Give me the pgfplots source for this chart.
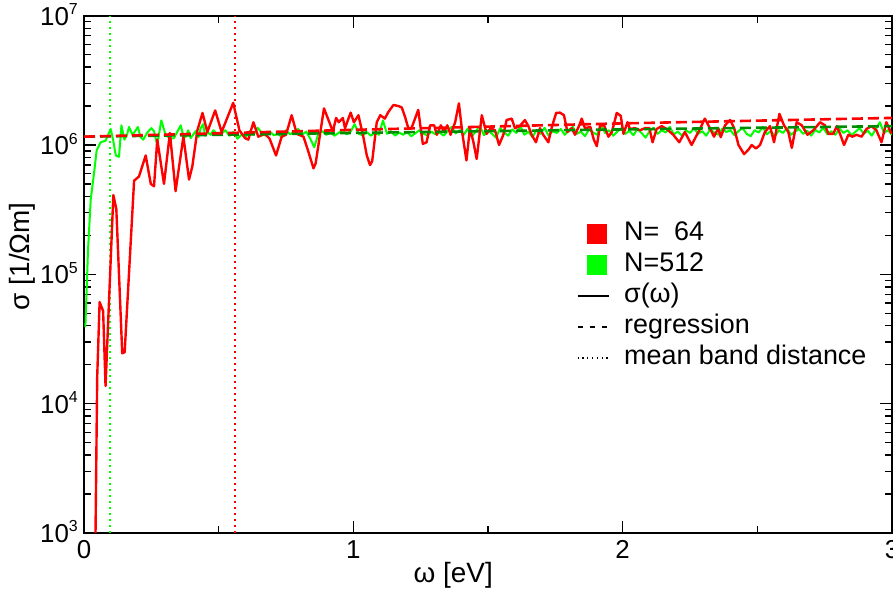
\documentclass[border=0pt]{standalone}
\usepackage{fontspec}
\setmainfont{Liberation Sans}
\usepackage{pgfplots}
\usepackage{pgfplotstable}
\pgfplotsset{compat=1.18}
\definecolor{grred}{RGB}{255,0,0}
\definecolor{grgreen}{RGB}{0,255,0}
\definecolor{grdkgreen}{RGB}{0,139,0}
\newcommand{\fs}{\fontsize{27}{32}\selectfont}
\newcommand{\fl}{\fontsize{28}{33}\selectfont}
\newcommand{\ft}{\fontsize{26}{31}\selectfont}
\newcommand{\pw}[1]{10\raisebox{10.5bp}{\fontsize{16}{16}\selectfont #1}}

\pgfplotstableread{
x y
0.036 50
0.049 1.6e4
0.058 6.1e4
0.071 5.2e4
0.080 1.37e4
0.109 4.1e5
0.120 3.2e5
0.142 2.45e4
0.151 2.5e4
0.186 5.3e5
0.204 5.7e5
0.229 8.3e5
0.248 5.0e5
0.260 4.8e5
0.272 1.1e6
0.297 5.0e5
0.319 1.24e6
0.340 4.4e5
0.369 1.16e6
0.390 5.4e5
0.402 6.8e5
0.421 1.3e6
0.440 1.77e6
0.458 1.26e6
0.487 1.85e6
0.511 1.26e6
0.554 2.12e6
0.577 1.3e6
0.598 1.13e6
0.610 1.1e6
0.629 1.5e6
0.647 1.16e6
0.672 1.22e6
0.689 1.12e6
0.713 8.3e5
0.734 1.16e6
0.750 1.2e6
0.771 1.7e6
0.790 1.22e6
0.815 1.16e6
0.833 8.9e5
0.852 6.6e5
0.860 7.2e5
0.891 1.92e6
0.911 1.5e6
0.924 1.27e6
0.936 1.62e6
0.946 1.5e6
0.961 1.62e6
0.969 1.35e6
0.990 1.78e6
1.002 1.5e6
1.019 1.7e6
1.037 1.16e6
1.050 8.3e5
1.062 7.0e5
1.070 7.5e5
1.087 1.5e6
1.100 1.7e6
1.117 1.6e6
1.130 1.8e6
1.149 2.04e6
1.168 2.0e6
1.180 1.95e6
1.192 1.65e6
1.204 1.35e6
1.216 1.35e6
1.241 1.87e6
1.258 1.02e6
1.272 1.05e6
1.285 1.42e6
1.300 1.42e6
1.310 1.2e6
1.325 1.42e6
1.337 1.26e6
1.349 1.42e6
1.361 1.2e6
1.378 1.5e6
1.392 2.1e6
1.405 1.22e6
1.420 7.6e5
1.433 1.35e6
1.446 1.05e6
1.458 7.8e5
1.477 1.7e6
1.495 1.22e6
1.510 1.35e6
1.526 1.3e6
1.541 1.0e6
1.557 1.2e6
1.569 1.56e6
1.588 1.6e6
1.600 1.35e6
1.618 1.4e6
1.637 1.56e6
1.650 1.4e6
1.662 1.2e6
1.678 1.05e6
1.693 1.35e6
1.705 1.2e6
1.724 1.05e6
1.736 1.35e6
1.753 1.77e6
1.767 1.78e6
1.782 1.7e6
1.795 1.26e6
1.811 1.35e6
1.823 1.2e6
1.839 1.42e6
1.848 1.6e6
1.860 1.35e6
1.880 1.38e6
1.893 1.1e6
1.904 9.8e5
1.916 1.42e6
1.931 1.42e6
1.947 1.16e6
1.960 1.26e6
1.978 1.77e6
1.993 1.68e6
2.003 1.22e6
2.018 1.5e6
2.027 1.33e6
2.046 1.35e6
2.064 1.3e6
2.083 1.35e6
2.099 1.35e6
2.111 1.05e6
2.126 1.33e6
2.145 1.4e6
2.163 1.33e6
2.188 1.2e6
2.210 1.05e6
2.231 1.26e6
2.256 1.0e6
2.272 1.16e6
2.287 1.33e6
2.305 1.6e6
2.324 1.35e6
2.339 1.16e6
2.355 1.35e6
2.364 1.15e6
2.380 1.42e6
2.399 1.56e6
2.414 1.35e6
2.430 1.0e6
2.451 8.5e5
2.467 9.2e5
2.479 1.0e6
2.495 9.4e5
2.510 1.0e6
2.528 1.26e6
2.547 1.4e6
2.562 1.05e6
2.582 1.74e6
2.599 1.42e6
2.615 1.26e6
2.628 9.5e5
2.646 1.5e6
2.665 1.42e6
2.686 1.2e6
2.708 1.3e6
2.733 1.5e6
2.751 1.42e6
2.764 1.22e6
2.782 1.22e6
2.795 1.4e6
2.807 1.22e6
2.822 1.0e6
2.838 1.2e6
2.853 1.16e6
2.868 1.2e6
2.887 1.16e6
2.905 1.33e6
2.924 1.4e6
2.942 1.3e6
2.961 1.05e6
2.979 1.5e6
2.998 1.22e6
}\redtab

\pgfplotstableread{
x y
0.005 3.9e4
0.015 1.55e5
0.025 3.8e5
0.037 6.0e5
0.047 9.1e5
0.062 1.05e6
0.080 1.08e6
0.099 1.33e6
0.108 1.1e6
0.118 8.3e5
0.130 8.1e5
0.139 1.42e6
0.150 1.1e6
0.160 1.2e6
0.167 1.38e6
0.180 1.2e6
0.190 1.28e6
0.200 1.38e6
0.210 1.15e6
0.220 1.1e6
0.235 1.25e6
0.250 1.35e6
0.260 1.28e6
0.272 1.0e6
0.287 1.55e6
0.303 1.2e6
0.320 1.12e6
0.334 1.13e6
0.345 1.25e6
0.359 1.42e6
0.368 1.2e6
0.377 1.15e6
0.387 1.3e6
0.396 1.13e6
0.405 1.2e6
0.415 1.28e6
0.425 1.15e6
0.433 1.35e6
0.442 1.45e6
0.450 1.18e6
0.460 1.25e6
0.470 1.2e6
0.480 1.3e6
0.495 1.22e6
0.510 1.22e6
0.525 1.30e6
0.540 1.18e6
0.555 1.26e6
0.570 1.12e6
0.585 1.20e6
0.600 1.15e6
0.615 1.28e6
0.630 1.20e6
0.645 1.36e6
0.660 1.24e6
0.675 1.18e6
0.690 1.27e6
0.705 1.19e6
0.720 1.22e6
0.735 1.15e6
0.750 1.30e6
0.765 1.21e6
0.780 1.26e6
0.795 1.33e6
0.810 1.20e6
0.825 1.27e6
0.840 1.12e6
0.855 0.96e6
0.870 1.22e6
0.885 1.28e6
0.900 1.20e6
0.915 1.25e6
0.930 1.18e6
0.945 1.24e6
0.960 1.30e6
0.975 1.21e6
0.990 1.27e6
1.005 1.45e6
1.020 1.22e6
1.035 1.19e6
1.050 1.26e6
1.065 1.18e6
1.080 1.24e6
1.095 1.20e6
1.110 1.55e6
1.125 1.22e6
1.140 1.28e6
1.155 1.18e6
1.170 1.25e6
1.185 1.20e6
1.200 1.26e6
1.215 1.17e6
1.230 1.23e6
1.245 1.30e6
1.260 1.22e6
1.275 1.19e6
1.290 1.27e6
1.305 1.21e6
1.320 1.25e6
1.335 1.18e6
1.350 1.28e6
1.365 1.38e6
1.380 1.23e6
1.395 1.30e6
1.410 1.20e6
1.425 1.34e6
1.440 1.16e6
1.455 1.28e6
1.470 1.40e6
1.485 1.19e6
1.500 1.30e6
1.515 1.22e6
1.530 1.14e6
1.545 1.35e6
1.560 1.25e6
1.575 1.18e6
1.590 1.32e6
1.605 1.24e6
1.620 1.40e6
1.635 1.20e6
1.650 1.27e6
1.665 1.15e6
1.680 1.30e6
1.695 1.22e6
1.710 1.36e6
1.725 1.18e6
1.740 1.28e6
1.755 1.24e6
1.770 1.33e6
1.785 1.20e6
1.800 1.30e6
1.815 1.38e6
1.830 1.22e6
1.845 1.27e6
1.860 1.17e6
1.875 1.32e6
1.890 1.25e6
1.905 1.20e6
1.920 1.42e6
1.935 1.24e6
1.950 1.30e6
1.965 1.18e6
1.980 1.27e6
1.995 1.35e6
2.010 1.22e6
2.025 1.29e6
2.040 1.19e6
2.055 1.33e6
2.070 1.24e6
2.085 1.14e6
2.100 1.28e6
2.115 1.36e6
2.130 1.22e6
2.145 1.30e6
2.160 1.25e6
2.175 1.38e6
2.190 1.21e6
2.205 1.27e6
2.220 1.18e6
2.235 1.30e6
2.250 1.24e6
2.265 1.35e6
2.280 1.22e6
2.295 1.28e6
2.310 1.18e6
2.325 1.32e6
2.340 1.25e6
2.355 1.20e6
2.370 1.34e6
2.385 1.26e6
2.400 1.30e6
2.415 1.19e6
2.430 1.28e6
2.445 1.36e6
2.460 1.22e6
2.475 1.17e6
2.490 1.30e6
2.505 1.25e6
2.520 1.38e6
2.535 1.21e6
2.550 1.28e6
2.565 1.16e6
2.580 1.30e6
2.595 1.24e6
2.610 1.35e6
2.625 1.20e6
2.640 1.27e6
2.655 1.33e6
2.670 1.22e6
2.685 1.29e6
2.700 1.18e6
2.715 1.31e6
2.730 1.25e6
2.745 1.36e6
2.760 1.21e6
2.775 1.28e6
2.790 1.20e6
2.805 1.34e6
2.820 1.24e6
2.835 1.30e6
2.850 1.19e6
2.865 1.27e6
2.880 1.35e6
2.895 1.22e6
2.910 1.29e6
2.925 1.18e6
2.940 1.33e6
2.955 1.50e6
2.970 1.24e6
2.985 1.30e6
3.000 1.20e6
}\greentab

\begin{document}
\begin{tikzpicture}
\begin{axis}[
  scale only axis, width=808bp, height=517.3bp,
  xmin=0, xmax=3, ymode=log, ymin=1e3, ymax=1e7,
  xtick={0,1,2,3}, xticklabels={0,1,2,3}, minor xtick={0.5,1.5,2.5},
  ytick={1e3,1e4,1e5,1e6,1e7},
  yticklabels={\pw{3},\pw{4},\pw{5},\pw{6},\pw{7}},
  minor ytick={2e3,3e3,4e3,5e3,6e3,7e3,8e3,9e3,2e4,3e4,4e4,5e4,6e4,7e4,8e4,9e4,2e5,3e5,4e5,5e5,6e5,7e5,8e5,9e5,2e6,3e6,4e6,5e6,6e6,7e6,8e6,9e6},
  tick align=inside, major tick length=12bp, minor tick length=7bp,
  every tick/.style={black, line width=1.4bp},
  axis line style={line width=1.8bp},
  ticklabel style={font=\ft, inner sep=0pt},
  xticklabel style={anchor=north, yshift=-7bp},
  yticklabel style={anchor=base east, xshift=-6bp, yshift=-9.5bp},
  label style={font=\fl, inner sep=0pt},
  xlabel={ω [eV]}, ylabel={σ [1/Ωm]},
  xlabel style={at={(axis description cs:0.457,-0.056)}, anchor=north},
  ylabel style={at={(axis description cs:-0.076,0.535)}, anchor=center},
  legend style={at={(axis description cs:0.610,0.604)}, anchor=north west,
    draw=none, fill=none, inner sep=0pt, outer sep=0pt, row sep=4bp,
    font=\fs, nodes={inner sep=0pt, text height=20bp, text depth=7bp},
    /tikz/every odd column/.append style={column sep=15bp}},
  legend cell align=left,
]
\addlegendimage{legend image code/.code={\fill[grred] (10bp,-9.5bp) rectangle (29bp,9.5bp);}}
\addlegendentry{N=\ \ 64}
\addlegendimage{legend image code/.code={\fill[grgreen] (10bp,-9.5bp) rectangle (29bp,9.5bp);}}
\addlegendentry{N=512}
\addlegendimage{legend image code/.code={\draw[black, line width=1.3bp] (0bp,0bp) -- (31bp,0bp);}}
\addlegendentry{σ(ω)}
\addlegendimage{legend image code/.code={\draw[black, line width=1.3bp, dash pattern=on 5bp off 7bp] (0bp,0bp) -- (31bp,0bp);}}
\addlegendentry{regression}
\addlegendimage{legend image code/.code={\draw[black, line width=1.3bp, dash pattern=on 1.3bp off 3.5bp] (0bp,0bp) -- (31bp,0bp);}}
\addlegendentry{mean band distance}

\addplot[grgreen, line width=2bp, dash pattern=on 2bp off 4bp, forget plot] coordinates {(0.097,1e3) (0.097,1e7)};
\addplot[grred, line width=2bp, dash pattern=on 2bp off 4bp, forget plot] coordinates {(0.561,1e3) (0.561,1e7)};
\addplot[grgreen, line width=2bp, line join=round, forget plot] table[x=x,y=y] {\greentab};
\addplot[grred, line width=2.4bp, line join=round, forget plot] table[x=x,y=y] {\redtab};
\addplot[grdkgreen, line width=2.6bp, dash pattern=on 11bp off 5bp, forget plot] coordinates {(0,1.16e6) (1,1.24e6) (2,1.32e6) (3,1.40e6)};
\addplot[grred, line width=2.6bp, dash pattern=on 11bp off 5bp, forget plot] coordinates {(0,1.16e6) (1,1.31e6) (2,1.47e6) (3,1.62e6)};
\end{axis}
\pgfresetboundingbox
\path[use as bounding box] ([xshift=-84bp,yshift=-61bp]current axis.south west) rectangle ([xshift=1bp,yshift=15.7bp]current axis.north east);
\end{tikzpicture}
\end{document}
